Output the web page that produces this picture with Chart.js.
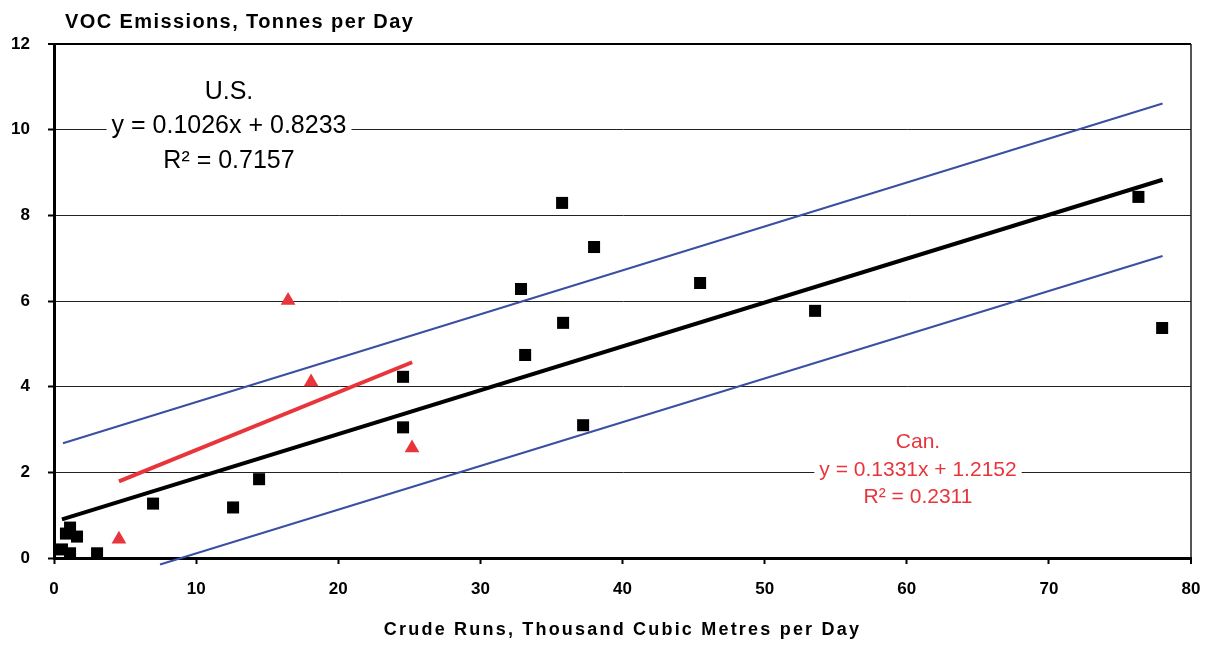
<!DOCTYPE html>
<html lang="en">
<head>
  <meta charset="UTF-8">
  <title>VOC Emissions vs Crude Runs</title>
  <script src="https://cdn.jsdelivr.net/npm/chart.js"></script>
  <style>
    body { margin: 0; background: #fff; }
    #wrap { width: 1212px; height: 645px; }
  </style>
</head>
<body>
  <div id="wrap"><canvas id="vocChart" width="1212" height="645"></canvas></div>

  <script>
    // U.S. refineries (black squares)
    const usX = [0.56, 0.84, 1.13, 1.62, 1.13, 3.03, 6.97, 12.6, 14.43, 24.56, 24.56, 32.86, 33.15, 35.75, 35.82, 37.23, 38.0, 45.46, 53.55, 76.3, 77.97];
    const usY = [0.20, 0.57, 0.71, 0.50, 0.11, 0.11, 1.27, 1.18, 1.84, 4.23, 3.05, 6.28, 4.74, 8.29, 5.49, 3.10, 7.26, 6.42, 5.77, 8.43, 5.37];

    // Canadian refineries (red triangles)
    const canX = [4.57, 16.47, 18.09, 25.19];
    const canY = [0.44, 6.01, 4.11, 2.57];

    // fitted lines, end points
    const usFitX = [0.56, 78.0];
    const usFitY = [0.90, 8.83];
    const upperX = [0.63, 78.0];
    const upperY = [2.68, 10.61];
    const lowerX = [7.46, 78.0];
    const lowerY = [-0.15, 7.05];
    const canFitX = [4.57, 25.2];
    const canFitY = [1.79, 4.57];

    const yTicks = [0, 2, 4, 6, 8, 10, 12];
    const xTicks = [0, 10, 20, 30, 40, 50, 60, 70, 80];

    const usText = ['U.S.', 'y = 0.1026x + 0.8233', 'R² = 0.7157'];
    const canText = ['Can.', 'y = 0.1331x + 1.2152', 'R² = 0.2311'];
    const yTitle = 'VOC Emissions, Tonnes per Day';
    const xTitle = 'Crude Runs, Thousand Cubic Metres per Day';

    const pts = (xs, ys) => xs.map((x, i) => ({ x: x, y: ys[i] }));

    const RED = '#E8353B';
    const BLUE = '#3A4FA2';
    const FAM = '"Liberation Sans", Arial, sans-serif';

    // equation text with a white box over the grid, plus the two titles
    const notes = {
      id: 'notes',
      beforeDatasetsDraw(chart) {
        const ctx = chart.ctx;
        const block = (lines, cx, ys, font, color) => {
          ctx.save();
          ctx.font = font;
          ctx.textAlign = 'center';
          ctx.textBaseline = 'middle';
          lines.forEach((t, i) => {
            const w = ctx.measureText(t).width;
            ctx.fillStyle = '#fff';
            ctx.fillRect(cx - w / 2 - 5, ys[i] - 12, w + 10, 24);
          });
          ctx.fillStyle = color;
          lines.forEach((t, i) => ctx.fillText(t, cx, ys[i]));
          ctx.restore();
        };
        block(usText, 229, [92, 126, 161], '25px ' + FAM, '#000');
        block(canText, 918, [442, 470, 497], '21px ' + FAM, RED);

        ctx.save();
        ctx.fillStyle = '#000';
        ctx.font = 'bold 20px ' + FAM;
        ctx.letterSpacing = '1.4px';
        ctx.textAlign = 'left';
        ctx.textBaseline = 'alphabetic';
        ctx.fillText(yTitle, 65, 28);

        const a = chart.chartArea;
        ctx.font = 'bold 18px ' + FAM;
        ctx.letterSpacing = '2.2px';
        ctx.textAlign = 'center';
        ctx.textBaseline = 'middle';
        ctx.fillText(xTitle, (a.left + a.right) / 2, 630);
        ctx.restore();
      }
    };

    const tickFont = { family: FAM, size: 17, weight: 'bold' };

    new Chart(document.getElementById('vocChart'), {
      type: 'scatter',
      data: {
        datasets: [
          { label: 'U.S.', data: pts(usX, usY), pointStyle: 'rect', pointRadius: 8.5, backgroundColor: '#000', borderColor: '#000', borderWidth: 0 },
          { label: 'Can.', data: pts(canX, canY), pointStyle: 'triangle', pointRadius: 8.5, backgroundColor: RED, borderColor: RED, borderWidth: 0 },
          { label: 'U.S. fit', data: pts(usFitX, usFitY), showLine: true, pointRadius: 0, borderColor: '#000', borderWidth: 4 },
          { label: 'upper', data: pts(upperX, upperY), showLine: true, pointRadius: 0, borderColor: BLUE, borderWidth: 2 },
          { label: 'lower', data: pts(lowerX, lowerY), showLine: true, pointRadius: 0, borderColor: BLUE, borderWidth: 2, clip: false },
          { label: 'Can. fit', data: pts(canFitX, canFitY), showLine: true, pointRadius: 0, borderColor: RED, borderWidth: 4 }
        ]
      },
      options: {
        responsive: false,
        animation: false,
        layout: { padding: { top: 44, right: 21, left: 0, bottom: 0 } },
        plugins: {
          legend: { display: false },
          tooltip: { enabled: false },
          title: { display: false }
        },
        scales: {
          x: {
            type: 'linear',
            min: 0,
            max: 80,
            afterBuildTicks: s => { s.ticks = xTicks.map(v => ({ value: v })); },
            afterFit: s => { s.height = 87; s.paddingRight = 8; s.paddingLeft = 0; },
            border: { color: '#000', width: 3 },
            grid: {
              color: c => (c.tick && c.tick.value === 80 ? '#555' : 'rgba(0,0,0,0)'),
              lineWidth: c => (c.tick && c.tick.value === 80 ? 2 : 1),
              tickColor: '#000',
              tickWidth: 2,
              tickLength: 6
            },
            ticks: { color: '#000', font: tickFont, padding: 15, maxRotation: 0 }
          },
          y: {
            min: 0,
            max: 12,
            afterBuildTicks: s => { s.ticks = yTicks.map(v => ({ value: v })); },
            afterFit: s => { s.width = 54; },
            border: { color: '#000', width: 3 },
            grid: {
              color: c => (c.tick && c.tick.value === 12 ? '#000' : '#222'),
              lineWidth: c => (c.tick && c.tick.value === 12 ? 2 : 1),
              tickColor: '#000',
              tickWidth: 2,
              tickLength: 6
            },
            ticks: { color: '#000', font: tickFont, padding: 18 }
          }
        }
      },
      plugins: [notes]
    });
  </script>
</body>
</html>
